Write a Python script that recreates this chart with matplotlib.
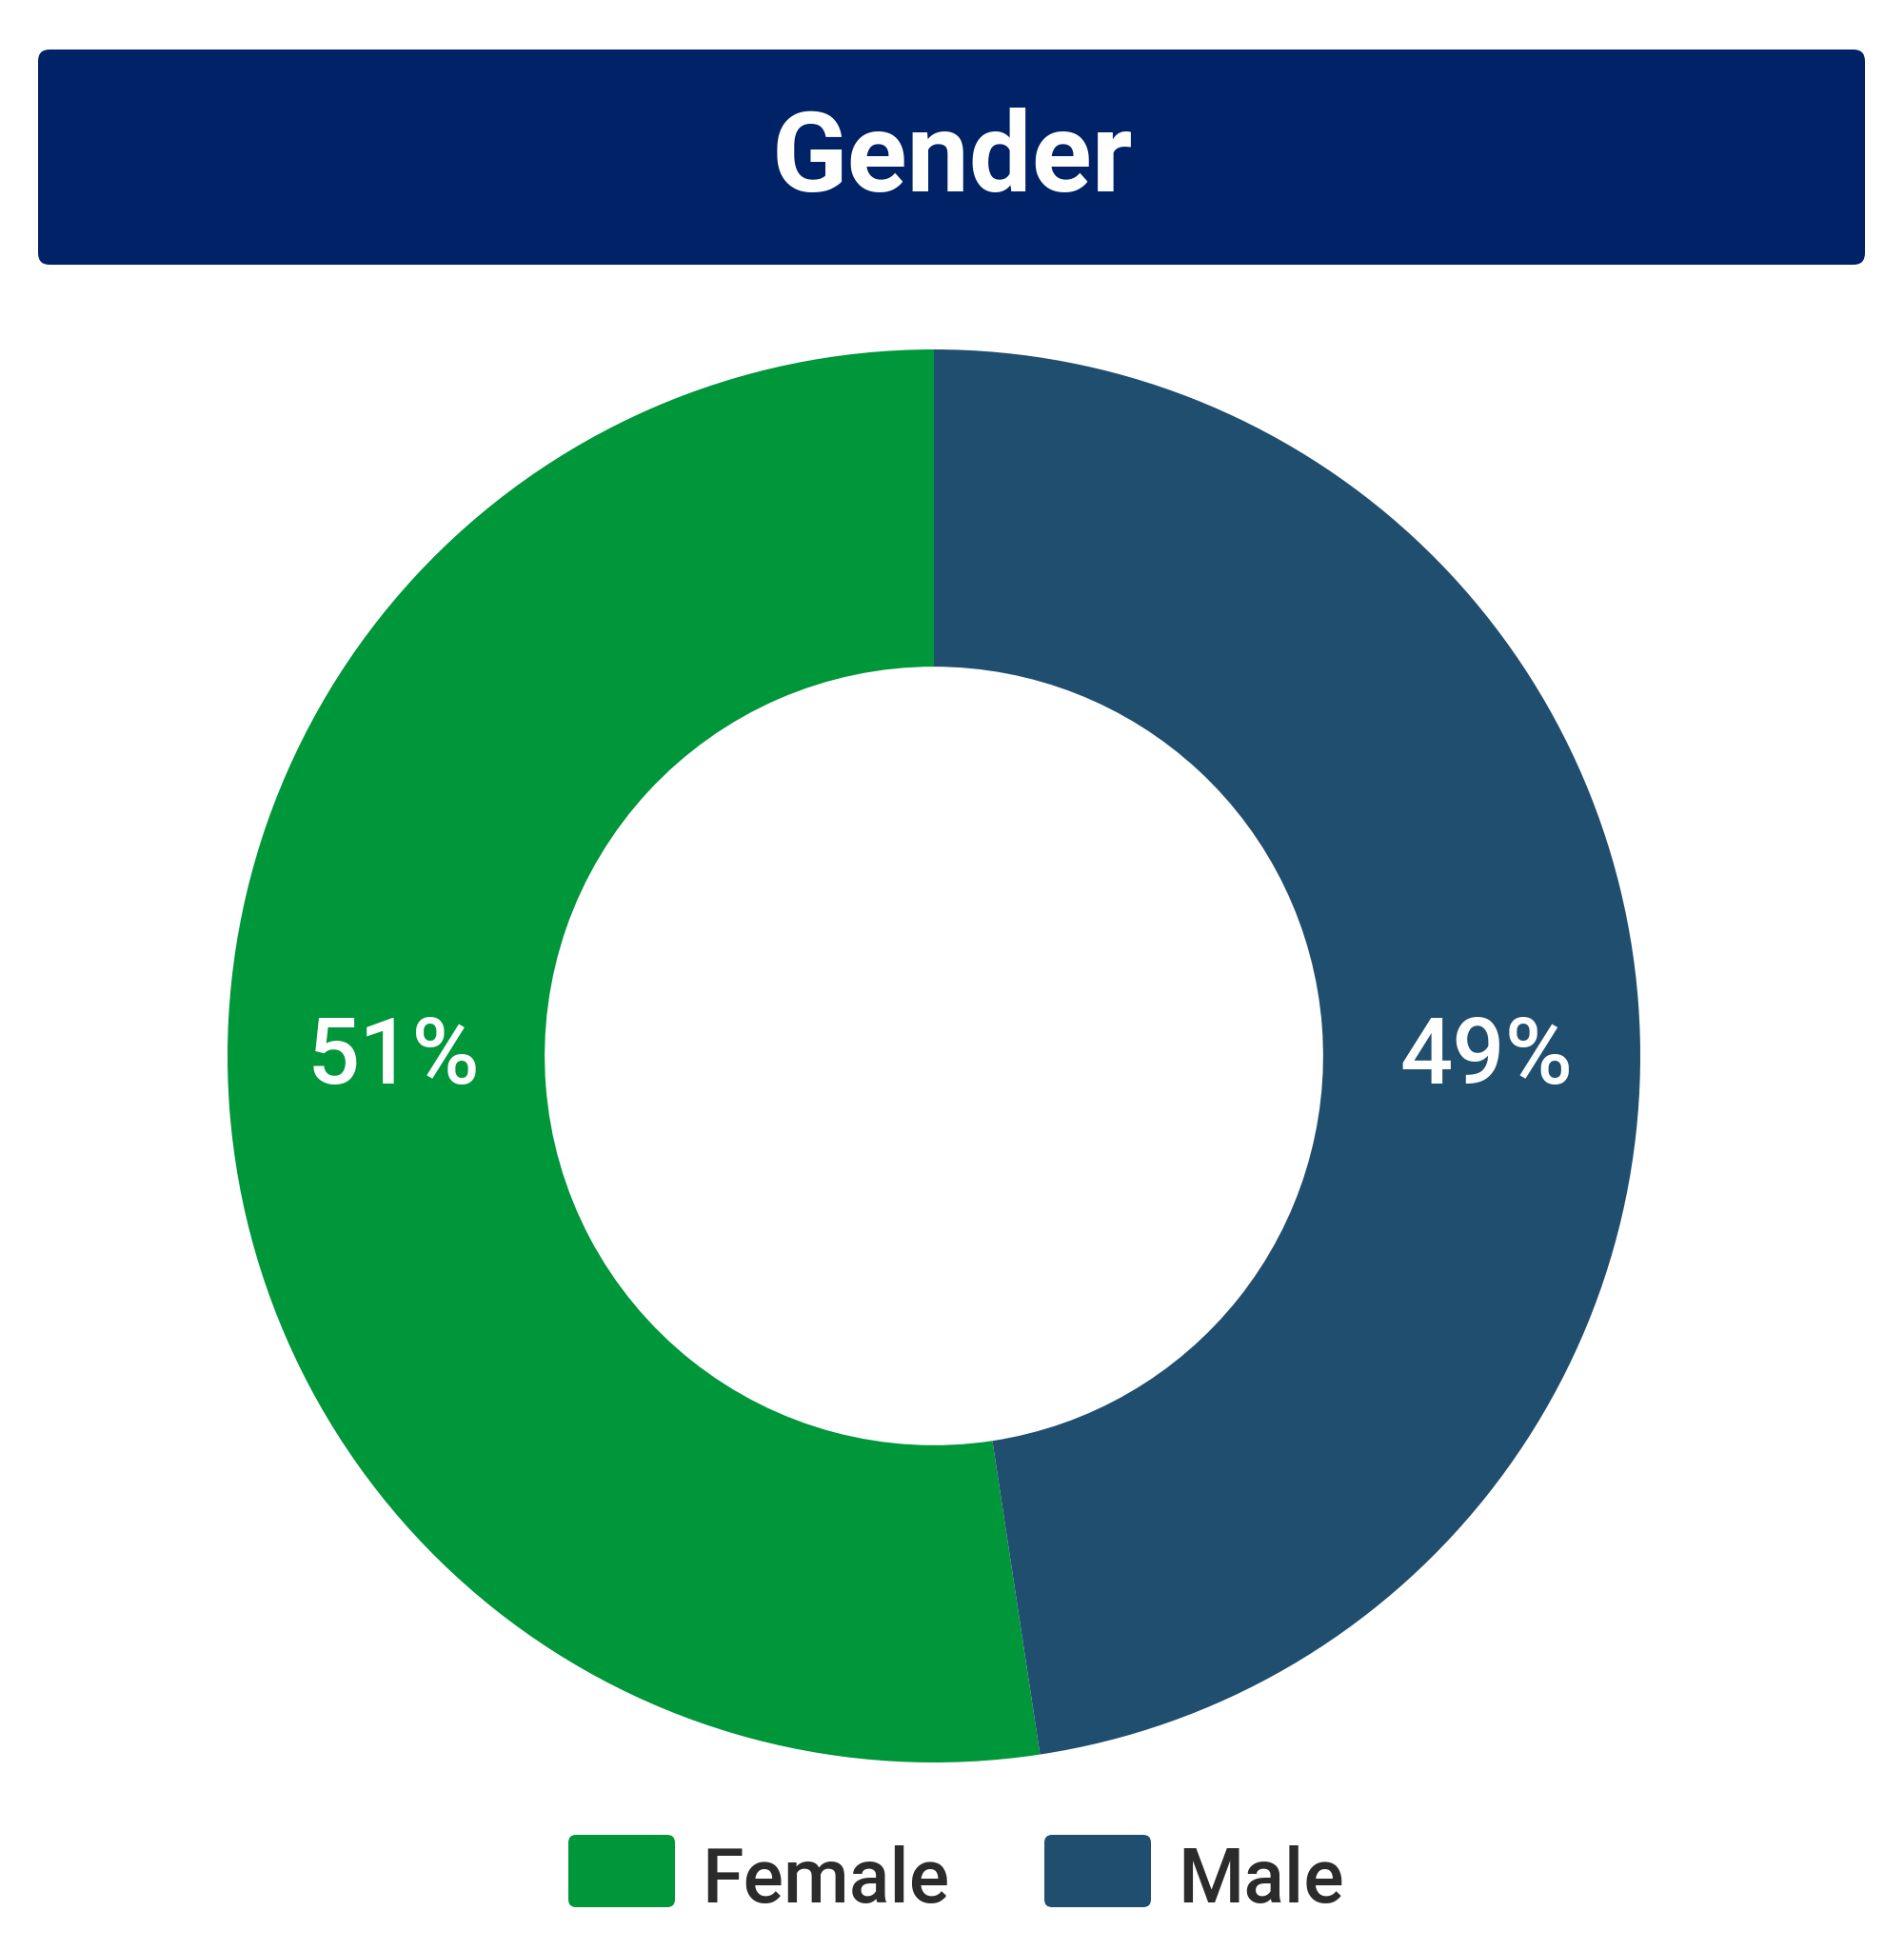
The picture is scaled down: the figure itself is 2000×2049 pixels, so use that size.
import matplotlib
matplotlib.use("Agg")
import matplotlib.pyplot as plt
from matplotlib.patches import FancyBboxPatch

# ---- data ----
categories = ["Female", "Male"]
shares = [52.4, 47.6]          # slice sizes as drawn
pct_labels = ["51%", "49%"]    # labels as printed on the chart
colors = ["#00963A", "#204E6E"]
title = "Gender"

W, H = 2000, 2049
fig = plt.figure(figsize=(W / 100, H / 100), dpi=100)
fig.patch.set_facecolor("white")

def fx(px):
    return px / W

def fy(py):
    return 1 - py / H

# ---- title banner ----
banner = FancyBboxPatch((fx(40), fy(278)), fx(1959) - fx(40), fy(52) - fy(278),
                        boxstyle="round,pad=0,rounding_size=0.006",
                        transform=fig.transFigure, facecolor="#002266",
                        edgecolor="none")
fig.patches.append(banner)
fig.text(0.5, fy(169), title, ha="center", va="center", color="white",
         fontsize=84, fontweight="bold", family=["Roboto", "DejaVu Sans"])

# ---- donut ----
cx, cy, R = 981, 1109, 742
ax = fig.add_axes([fx(cx - R), fy(cy + R), 2 * R / W, 2 * R / H])
wedges, _ = ax.pie(shares, colors=colors, startangle=90, counterclock=True,
                   radius=1.0, wedgeprops=dict(width=0.449, edgecolor="none",
                                               linewidth=0))
ax.set_xlim(-1, 1)
ax.set_ylim(-1, 1)
ax.set_aspect("auto")
ax.axis("off")

label_pos = [(-0.765, -0.004), (0.782, -0.004)]
for (x, y), lab in zip(label_pos, pct_labels):
    ax.text(x, y, lab, ha="center", va="center", color="white", fontsize=70,
            fontweight="medium", family=["Roboto", "DejaVu Sans"])

# ---- legend ----
patch_x = [597, 1097]
patch_w, patch_top, patch_bot = 112, 1927, 2003
for px, cat, col in zip(patch_x, categories, colors):
    p = FancyBboxPatch((fx(px), fy(patch_bot)), fx(patch_w), fy(patch_top) - fy(patch_bot),
                       boxstyle="round,pad=0,rounding_size=0.004",
                       transform=fig.transFigure, facecolor=col, edgecolor="none")
    fig.patches.append(p)
    fig.text(fx(px + patch_w + 28), fy(1976), cat, ha="left", va="center",
             color="#2B2B2B", fontsize=57, fontweight="medium",
             family=["Roboto", "DejaVu Sans"])

fig.savefig("out.png", dpi=100, facecolor="white")
